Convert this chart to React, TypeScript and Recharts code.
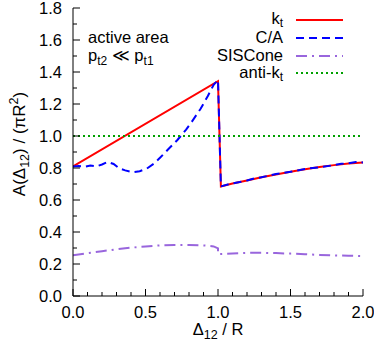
import React from 'react';
import { LineChart, Line, XAxis, YAxis, Legend } from 'recharts';

// k_t
const ktDelta = [0, 1.0, 1.02, 1.1, 1.2, 1.3, 1.4, 1.5, 1.6, 1.7, 1.8, 1.9, 2.0];
const ktArea = [0.81, 1.343, 0.685, 0.703, 0.722, 0.742, 0.76, 0.777, 0.792, 0.806, 0.818, 0.828, 0.835];

// Cambridge/Aachen
const caDelta = [0, 0.04, 0.08, 0.12, 0.16, 0.2, 0.24, 0.28, 0.32, 0.36, 0.41, 0.46, 0.51, 0.56, 0.6, 0.66, 0.72, 0.78, 0.82, 0.88, 0.93, 0.97, 1.0,
  1.02, 1.08, 1.15, 1.2, 1.25, 1.3, 1.4, 1.5, 1.6, 1.7, 1.78, 1.85, 1.9, 1.95, 2.0];
const caArea = [0.81, 0.812, 0.808, 0.815, 0.81, 0.822, 0.838, 0.825, 0.797, 0.785, 0.774, 0.78, 0.797, 0.828, 0.864, 0.92, 0.975, 1.04, 1.09, 1.17, 1.25, 1.32, 1.35,
  0.685, 0.7, 0.712, 0.722, 0.735, 0.742, 0.762, 0.776, 0.794, 0.805, 0.815, 0.826, 0.83, 0.838, 0.835];

// SISCone
const sisDelta = [0, 0.1, 0.2, 0.3, 0.4, 0.5, 0.6, 0.7, 0.8, 0.9, 0.97, 1.0, 1.0, 1.1, 1.2, 1.3, 1.4, 1.5, 1.6, 1.7, 1.8, 1.9, 2.0];
const sisArea = [0.255, 0.268, 0.28, 0.292, 0.302, 0.31, 0.316, 0.319, 0.319, 0.316, 0.31, 0.298, 0.262, 0.266, 0.27, 0.27, 0.268, 0.265, 0.261, 0.257, 0.254, 0.252, 0.25];

// anti-k_t
const akDelta = [0, 2.0];
const akArea = [1.0, 1.0];

const xTicks = [0, 0.1, 0.2, 0.3, 0.4, 0.5, 0.6, 0.7, 0.8, 0.9, 1.0, 1.1, 1.2, 1.3, 1.4, 1.5, 1.6, 1.7, 1.8, 1.9, 2.0];
const yTicks = [0, 0.1, 0.2, 0.3, 0.4, 0.5, 0.6, 0.7, 0.8, 0.9, 1.0, 1.1, 1.2, 1.3, 1.4, 1.5, 1.6, 1.7, 1.8];

const toPoints = (xs: number[], ys: number[]) => xs.map((x, i) => ({ x, y: ys[i] }));

const series = [
  { key: 'kt', label: 'k', sub: 't', color: '#ff0000', dash: undefined, data: toPoints(ktDelta, ktArea) },
  { key: 'ca', label: 'C/A', sub: '', color: '#0000ff', dash: '8 5', data: toPoints(caDelta, caArea) },
  { key: 'sis', label: 'SISCone', sub: '', color: '#9966dd', dash: '11 5 2 5', data: toPoints(sisDelta, sisArea) },
  { key: 'ak', label: 'anti-k', sub: 't', color: '#00a000', dash: '2 3', data: toPoints(akDelta, akArea) },
];

const FONT = '"Liberation Sans", Arial, sans-serif';
const FS = 16.5;

const isMajorX = (v: number) => Math.round(v * 10) % 5 === 0;
const isMajorY = (v: number) => Math.round(v * 10) % 2 === 0;

const BottomTick = (props: any) => {
  const { x, y, payload } = props;
  const v = payload.value;
  const major = isMajorX(v);
  return (
    <g>
      <line x1={x} x2={x} y1={y} y2={y - (major ? 7 : 4)} stroke="#000" />
      {major && (
        <text x={x} y={y + 22} textAnchor="middle" fontFamily={FONT} fontSize={FS} fill="#000">
          {v.toFixed(1)}
        </text>
      )}
    </g>
  );
};

const TopTick = (props: any) => {
  const { x, y, payload } = props;
  const major = isMajorX(payload.value);
  return <line x1={x} x2={x} y1={y} y2={y + (major ? 7 : 4)} stroke="#000" />;
};

const LeftTick = (props: any) => {
  const { x, y, payload } = props;
  const v = payload.value;
  const major = isMajorY(v);
  return (
    <g>
      <line x1={x} x2={x + (major ? 7 : 4)} y1={y} y2={y} stroke="#000" />
      {major && (
        <text x={x - 11} y={y + 6} textAnchor="end" fontFamily={FONT} fontSize={FS} fill="#000">
          {v.toFixed(1)}
        </text>
      )}
    </g>
  );
};

const RightTick = (props: any) => {
  const { x, y, payload } = props;
  const major = isMajorY(payload.value);
  return <line x1={x} x2={x - (major ? 7 : 4)} y1={y} y2={y} stroke="#000" />;
};

const YLabel = () => (
  <text
    x={25}
    y={144}
    transform="rotate(-90, 25, 144)"
    textAnchor="middle"
    fontFamily={FONT}
    fontSize={17}
    fill="#000"
  >
    A(Δ<tspan dy={4} fontSize={12.5}>12</tspan>
    <tspan dy={-4}>) / (πR</tspan>
    <tspan dy={-7} fontSize={12.5}>2</tspan>
    <tspan dy={7}>)</tspan>
  </text>
);

const XLabel = () => (
  <text x={218} y={335} textAnchor="middle" fontFamily={FONT} fontSize={16.5} fill="#000">
    Δ<tspan dy={4} fontSize={12.5}>12</tspan>
    <tspan dy={-4}> / R</tspan>
  </text>
);

const LegendBox = () => (
  <div style={{ fontFamily: FONT, fontSize: FS, color: '#000' }}>
    {series.map((s) => (
      <div key={s.key} style={{ display: 'flex', alignItems: 'center', height: 17.8 }}>
        <span style={{ width: 93, textAlign: 'right', whiteSpace: 'nowrap', lineHeight: '17px' }}>
          {s.label}
          {s.sub && <span style={{ fontSize: 12, position: 'relative', top: 3 }}>{s.sub}</span>}
        </span>
        <svg width={60} height={17.8} style={{ display: 'block' }}>
          <line x1={13} x2={60} y1={8.9} y2={8.9} stroke={s.color} strokeWidth={2} strokeDasharray={s.dash} />
        </svg>
      </div>
    ))}
  </div>
);

export default function App() {
  return (
    <div style={{ position: 'absolute', left: 0, top: 0, width: 374, height: 350, background: '#fff' }}>
      <LineChart width={374} height={350} margin={{ top: 8, right: 11, bottom: 0, left: 0 }}>
        <XAxis
          type="number"
          dataKey="x"
          domain={[0, 2]}
          ticks={xTicks}
          interval={0}
          height={54}
          tickSize={0}
          tickMargin={0}
          tickLine={false}
          axisLine={{ stroke: '#000' }}
          tick={<BottomTick />}
          allowDataOverflow
          label={<XLabel />}
        />
        <XAxis
          xAxisId="top"
          orientation="top"
          type="number"
          dataKey="x"
          domain={[0, 2]}
          ticks={xTicks}
          interval={0}
          height={0}
          tickSize={0}
          tickMargin={0}
          tickLine={false}
          axisLine={{ stroke: '#000' }}
          tick={<TopTick />}
        />
        <YAxis
          type="number"
          domain={[0, 1.8]}
          ticks={yTicks}
          interval={0}
          width={73}
          tickSize={0}
          tickMargin={0}
          tickLine={false}
          axisLine={{ stroke: '#000' }}
          tick={<LeftTick />}
          allowDataOverflow
          label={<YLabel />}
        />
        <YAxis
          yAxisId="right"
          orientation="right"
          type="number"
          domain={[0, 1.8]}
          ticks={yTicks}
          interval={0}
          width={0}
          tickSize={0}
          tickMargin={0}
          tickLine={false}
          axisLine={{ stroke: '#000' }}
          tick={<RightTick />}
        />
        {series.map((s) => (
          <Line
            key={s.key}
            data={s.data}
            dataKey="y"
            name={s.label}
            type="linear"
            stroke={s.color}
            strokeWidth={2}
            strokeDasharray={s.dash}
            dot={false}
            activeDot={false}
            isAnimationActive={false}
          />
        ))}
        <Legend
          layout="vertical"
          align="center"
          verticalAlign="middle"
          content={<LegendBox />}
          wrapperStyle={{ top: 11, left: 190, width: 160 }}
        />
      </LineChart>
      <div
        style={{
          position: 'absolute',
          left: 88,
          top: 28,
          fontFamily: FONT,
          fontSize: FS,
          lineHeight: '18px',
          color: '#000',
        }}
      >
        <div>active area</div>
        <div>
          p<span style={{ fontSize: 12, position: 'relative', top: 4 }}>t2</span> ≪ p
          <span style={{ fontSize: 12, position: 'relative', top: 4 }}>t1</span>
        </div>
      </div>
    </div>
  );
}
